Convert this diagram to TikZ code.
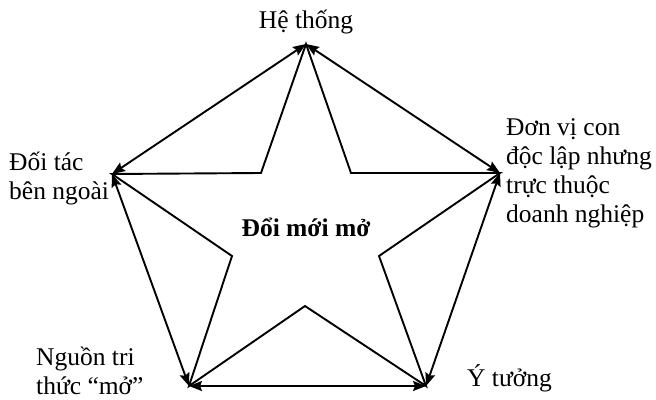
\documentclass[tikz,border=0pt]{standalone}
\usepackage{fontspec}
\setmainfont{Liberation Serif}
\usetikzlibrary{arrows.meta}
\begin{document}
\begin{tikzpicture}[x=1pt,y=-1pt,
  edge/.style={line width=1.9pt,{Stealth[length=13pt,width=10pt,inset=2pt]}-{Stealth[length=13pt,width=10pt,inset=2pt]}},
  starline/.style={line width=1.9pt,line join=miter},
  lbl/.style={font=\fontsize{25.5}{29}\selectfont,inner sep=0pt,align=left}]
\useasboundingbox (0,0) rectangle (656,399);
% outer vertices
\coordinate (T) at (306,44);
\coordinate (R) at (500,173);
\coordinate (BR) at (426,386);
\coordinate (BL) at (189,386);
\coordinate (L) at (112,174);
% inner vertices
\coordinate (i1) at (351,173);
\coordinate (i2) at (379,256);
\coordinate (i3) at (305,306);
\coordinate (i4) at (232,256);
\coordinate (i5) at (261,173);
% star
\draw[starline] (T) -- (i1) -- (R) -- (i2) -- (BR) -- (i3) -- (BL) -- (i4) -- (L) -- (i5) -- cycle;
% pentagon arrows
\draw[edge] (T) -- (R);
\draw[edge] (R) -- (BR);
\draw[edge] (BR) -- (BL);
\draw[edge] (BL) -- (L);
\draw[edge] (L) -- (T);
% labels
\node[lbl] (top) at (306,22) {Hệ thống};
\node[lbl,anchor=west] (left) at (9,179) {Đối tác\\bên ngoài};
\node[lbl,anchor=west] (right) at (506,173) {Đơn vị con\\độc lập nhưng\\trực thuộc\\doanh nghiệp};
\node[lbl,anchor=west] (bl) at (36,371) {Nguồn tri\\thức “mở”};
\node[lbl,anchor=west] (br) at (467,378) {Ý tưởng};
\node[lbl,font=\fontsize{25.5}{29}\selectfont\bfseries] (center) at (306,227) {Đổi mới mở};
\end{tikzpicture}
\end{document}
